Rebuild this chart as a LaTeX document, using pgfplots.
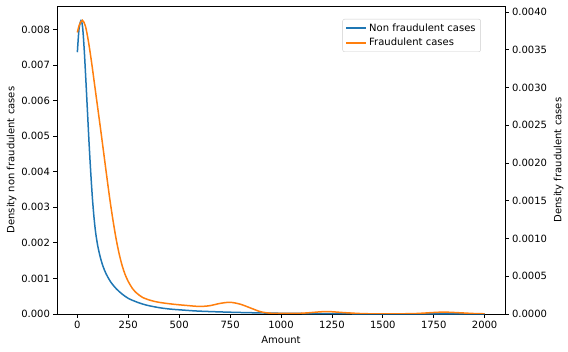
\documentclass[border=0pt]{standalone}
\usepackage{pgfplots}
\pgfplotsset{compat=1.18}
\usepackage{fontspec}
\setmainfont{DejaVu Sans}
\definecolor{tabblue}{HTML}{1F77B4}
\definecolor{taborange}{HTML}{FF7F0E}
\begin{document}
\fontsize{10bp}{12bp}\selectfont
\begin{tikzpicture}
\pgfplotsset{
  common/.style={
    scale only axis, width=448bp, height=308bp,
    xmin=-100, xmax=2100,
    tick align=outside, major tick length=3.5bp,
    every tick/.style={black, line width=0.8bp},
    axis line style={line width=0.8bp},
    /pgf/number format/assume math mode=true,
    tick label style={font=\fontsize{10bp}{12bp}\selectfont},
    label style={font=\fontsize{10bp}{12bp}\selectfont},
  }
}
\begin{axis}[common,
  xtick pos=bottom, ytick pos=left,
  ymin=0, ymax=0.00866,
  ytick={0,0.001,0.002,0.003,0.004,0.005,0.006,0.007,0.008},
  yticklabel style={/pgf/number format/fixed, /pgf/number format/fixed zerofill, /pgf/number format/precision=3},
  scaled y ticks=false,
  xtick={0,250,500,750,1000,1250,1500,1750,2000},
  xticklabel style={/pgf/number format/1000 sep={}},
  xlabel={Amount},
  ylabel={Density non fraudulent cases},
  xlabel style={yshift=-1bp},
  ylabel style={yshift=-2bp},
]
\addplot[tabblue, line width=1.5bp, smooth] coordinates {
(0,0.00736) (8,0.0080) (18,0.00825) (26,0.00805) (34,0.00740) (42,0.00655) (50,0.00565) (58,0.00475) (66,0.00395) (74,0.00325) (82,0.00270) (90,0.00228) (100,0.00192) (112,0.00161) (126,0.00134) (142,0.00112) (165,0.00089) (191,0.00071) (220,0.00056) (250,0.00044) (290,0.00034) (339,0.00025) (400,0.00018) (453,0.00014) (520,0.00011) (600,0.00008) (750,0.00005) (900,0.00003) (1000,0.00002) (1150,0.000012) (1250,0.000012) (1400,0.000005) (1600,0.000003) (1800,0.000005) (2000,0.000002)
};
\end{axis}
\begin{axis}[common,
  axis y line*=right, axis x line=none,
  ymin=0, ymax=0.00408,
  ytick={0,0.0005,0.001,0.0015,0.002,0.0025,0.003,0.0035,0.004},
  yticklabel style={/pgf/number format/fixed, /pgf/number format/fixed zerofill, /pgf/number format/precision=4},
  scaled y ticks=false,
  ylabel={Density fraudulent cases},
  legend style={at={(0.946,0.958)}, anchor=north east, draw=black!20, rounded corners=2bp, font=\fontsize{10bp}{12bp}\selectfont, row sep=1.5bp, inner xsep=3bp, inner ysep=2.5bp},
  legend cell align=left,
  legend image code/.code={\draw[#1] (0bp,0bp) -- (20bp,0bp);},
]
\addlegendimage{draw=tabblue, line width=1.5bp}
\addlegendentry{Non fraudulent cases}
\addplot[taborange, line width=1.5bp, smooth] coordinates {
(0,0.00373) (10,0.00383) (25,0.00389) (40,0.00381) (55,0.00360) (70,0.00333) (85,0.00303) (100,0.00273) (115,0.00243) (130,0.00212) (145,0.00181) (160,0.00151) (175,0.00124) (190,0.00100) (205,0.00080) (220,0.00064) (235,0.00052) (250,0.00043) (270,0.00034) (290,0.00028) (320,0.00022) (360,0.00018) (400,0.000155) (470,0.00013) (550,0.00011) (600,0.00010) (650,0.00011) (700,0.00014) (750,0.000155) (800,0.00013) (850,0.00008) (900,0.00003) (950,0.00001) (1000,0.000008) (1100,0.00001) (1200,0.00003) (1250,0.00003) (1300,0.00002) (1400,0.000005) (1500,0.000002) (1650,0.000005) (1750,0.00002) (1800,0.000025) (1850,0.00002) (1950,0.000006) (2000,0.000003)
};
\addlegendentry{Fraudulent cases}
\end{axis}
\pgfresetboundingbox
\path[use as bounding box] (-57bp,-38bp) rectangle (511bp,314bp);
\end{tikzpicture}
\end{document}
